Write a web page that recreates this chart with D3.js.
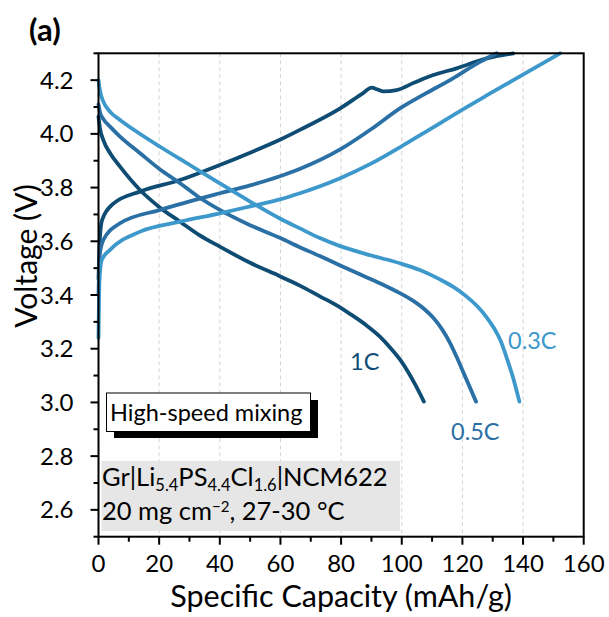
<!DOCTYPE html>
<html><head><meta charset="utf-8">
<script src="https://cdn.jsdelivr.net/npm/d3@7"></script>
<style>body{margin:0;background:#fff}svg{display:block}text{font-family:Lato,"Open Sans",sans-serif}</style>
</head><body>
<script>
// Data (capacity mAh/g, voltage V)
const rates = ["1C", "0.5C", "0.3C"];
const colors = ["#0f4c74", "#2b70a5", "#3d98cb"];
const charge1C = [[0,3.46],[0.5,3.62],[1.2,3.68],[4.9,3.74],[13.7,3.785],[26.9,3.828],[40,3.884],[50,3.93],[59.8,3.978],[66.4,4.015],[79.7,4.095],[87,4.15],[90.1,4.172],[92,4.165],[94,4.158],[98.3,4.163],[104,4.19],[110.4,4.219],[118.1,4.244],[128,4.281],[136.8,4.3]];
const charge05C = [[0,3.40],[0.4,3.55],[1.6,3.605],[7.1,3.667],[20.3,3.717],[40,3.779],[50,3.808],[59.8,3.842],[66.5,3.87],[79.7,3.942],[90,4.018],[99.4,4.095],[107.5,4.148],[115.9,4.2],[125.8,4.268],[131.3,4.3]];
const charge03C = [[0,3.24],[0.3,3.45],[1.05,3.53],[3.8,3.568],[13.7,3.636],[26.9,3.673],[40,3.704],[50,3.73],[59.8,3.756],[66.4,3.779],[79.7,3.835],[90,3.89],[99.4,3.95],[109,4.015],[119.2,4.085],[128,4.143],[136.8,4.2],[152.2,4.3]];
const discharge1C = [[0,4.064],[0.5,4.02],[1.6,3.977],[4,3.925],[7.1,3.878],[13.7,3.791],[20,3.728],[26.9,3.673],[33,3.625],[40,3.58],[50,3.52],[59.8,3.47],[66.4,3.435],[73,3.395],[78,3.365],[82.9,3.33],[88,3.29],[92.8,3.245],[96.5,3.2],[99.4,3.16],[102,3.115],[104.5,3.065],[107.3,3.003]];
const discharge05C = [[0,4.11],[0.5,4.08],[1.6,4.055],[3.8,4.027],[7.1,3.99],[13.7,3.928],[20,3.87],[26.9,3.816],[33,3.765],[40,3.717],[50,3.66],[59.8,3.613],[66.4,3.578],[73,3.545],[79.7,3.51],[86,3.478],[92.8,3.444],[98,3.415],[103.8,3.378],[107.5,3.347],[110.4,3.315],[113.3,3.272],[115.9,3.222],[118.2,3.167],[120.3,3.112],[124.5,3.003]];
const discharge03C = [[0,4.2],[0.5,4.16],[1.6,4.12],[4,4.08],[7.1,4.052],[13,4.005],[20.3,3.952],[30,3.885],[40,3.816],[50,3.748],[59.8,3.685],[66.4,3.648],[73,3.612],[79.7,3.582],[90,3.547],[99.4,3.518],[106,3.493],[112.6,3.458],[117,3.43],[121.4,3.394],[125,3.357],[128,3.317],[130.5,3.275],[132.5,3.232],[134.5,3.17],[136.5,3.1],[138.8,3.003]];
const xTicks = [0,20,40,60,80,100,120,140,160];
const yTicks = [2.6,2.8,3.0,3.2,3.4,3.6,3.8,4.0,4.2];
const xDomain = [0,160], yDomain = [2.5,4.3];

const W = 609, H = 617;
const m = {l:98.5, r:583.7, t:53.3, b:536.7};
const svg = d3.select("body").append("svg").attr("width",W).attr("height",H);
const x = d3.scaleLinear().domain(xDomain).range([m.l,m.r]);
const y = d3.scaleLinear().domain(yDomain).range([m.b,m.t]);

// grid
svg.append("g").selectAll("line").data(xTicks.slice(1,-1)).join("line")
  .attr("x1",d=>x(d)).attr("x2",d=>x(d)).attr("y1",m.t).attr("y2",m.b)
  .attr("stroke","#d4d4d4").attr("stroke-width",1).attr("stroke-dasharray","4,3");

// boxes
const g1 = svg.append("g");
g1.append("rect").attr("x",114).attr("y",400).attr("width",204).attr("height",38).attr("fill","#000");
g1.append("rect").attr("x",106.5).attr("y",393).attr("width",204).attr("height",38.5).attr("fill","#fff").attr("stroke","#000").attr("stroke-width",1);
g1.append("text").attr("x",110).attr("y",421).attr("font-size",23.5).attr("fill","#000").text("High-speed mixing");

svg.append("rect").attr("x",101.5).attr("y",461).attr("width",298.5).attr("height",70).attr("fill","#e6e6e6");
const t1 = svg.append("text").attr("x",102).attr("y",486).attr("font-size",25.5).attr("fill","#000");
t1.append("tspan").text("Gr|Li");
t1.append("tspan").attr("font-size",16.5).attr("dy",5).text("5.4");
t1.append("tspan").attr("dy",-5).text("PS");
t1.append("tspan").attr("font-size",16.5).attr("dy",5).text("4.4");
t1.append("tspan").attr("dy",-5).text("Cl");
t1.append("tspan").attr("font-size",16.5).attr("dy",5).text("1.6");
t1.append("tspan").attr("dy",-5).text("|NCM622");
const t2 = svg.append("text").attr("x",102).attr("y",520).attr("font-size",25.5).attr("fill","#000");
t2.append("tspan").text("20 mg cm");
t2.append("tspan").attr("font-size",15).attr("dy",-8).text("\u22122");
t2.append("tspan").attr("dy",8).text(", 27-30 \u00B0C");

// curves
const line = d3.line().x(d=>x(d[0])).y(d=>y(d[1])).curve(d3.curveMonotoneX);
const series = [
  {d:charge1C,c:0},{d:discharge1C,c:0},
  {d:charge05C,c:1},{d:discharge05C,c:1},
  {d:charge03C,c:2},{d:discharge03C,c:2}
];
svg.append("g").selectAll("path").data(series).join("path")
  .attr("d",s=>line(s.d)).attr("fill","none").attr("stroke",s=>colors[s.c])
  .attr("stroke-width",3.8).attr("stroke-linecap","round").attr("stroke-linejoin","round");

// labels
const labs = [{t:rates[0],x:350,y:370,c:0},{t:rates[1],x:451,y:440,c:1},{t:rates[2],x:508,y:349,c:2}];
svg.append("g").selectAll("text").data(labs).join("text")
  .attr("x",d=>d.x).attr("y",d=>d.y).attr("font-size",23.5).attr("fill",d=>colors[d.c]).text(d=>d.t);

// frame
svg.append("rect").attr("x",m.l).attr("y",m.t).attr("width",m.r-m.l).attr("height",m.b-m.t)
  .attr("fill","none").attr("stroke","#000").attr("stroke-width",2);

// axes
const xMinor = d3.range(10,160,20);
const yMinor = d3.range(2.5,4.31,0.2).map(v=>+v.toFixed(1));
const gx = svg.append("g").attr("transform",`translate(0,${m.b})`);
gx.selectAll("line.maj").data(xTicks).join("line").attr("class","maj")
  .attr("x1",d=>x(d)).attr("x2",d=>x(d)).attr("y1",0).attr("y2",8).attr("stroke","#000").attr("stroke-width",2);
gx.selectAll("line.min").data(xMinor).join("line").attr("class","min")
  .attr("x1",d=>x(d)).attr("x2",d=>x(d)).attr("y1",0).attr("y2",5).attr("stroke","#000").attr("stroke-width",2);
gx.selectAll("text").data(xTicks).join("text").attr("x",d=>x(d)).attr("y",35)
  .attr("text-anchor","middle").attr("font-size",24).attr("fill","#000").text(d=>d);

const gy = svg.append("g").attr("transform",`translate(${m.l},0)`);
gy.selectAll("line.maj").data(yTicks).join("line").attr("class","maj")
  .attr("y1",d=>y(d)).attr("y2",d=>y(d)).attr("x1",0).attr("x2",-8).attr("stroke","#000").attr("stroke-width",2);
gy.selectAll("line.min").data(yMinor).join("line").attr("class","min")
  .attr("y1",d=>y(d)).attr("y2",d=>y(d)).attr("x1",0).attr("x2",-5).attr("stroke","#000").attr("stroke-width",2);
gy.selectAll("text").data(yTicks).join("text").attr("x",-25).attr("y",d=>y(d)+8.5)
  .attr("text-anchor","end").attr("font-size",24).attr("fill","#000").text(d=>d.toFixed(1));

svg.append("text").attr("x",(m.l+m.r)/2).attr("y",607).attr("text-anchor","middle")
  .attr("font-size",30.5).attr("fill","#000").text("Specific Capacity (mAh/g)");
svg.append("text").attr("transform","translate(37,256) rotate(-90)").attr("text-anchor","middle")
  .attr("font-size",30).attr("fill","#000").text("Voltage (V)");
svg.append("text").attr("x",29).attr("y",41).attr("font-size",31).attr("font-weight","bold").text("(a)");
</script>
</body></html>
